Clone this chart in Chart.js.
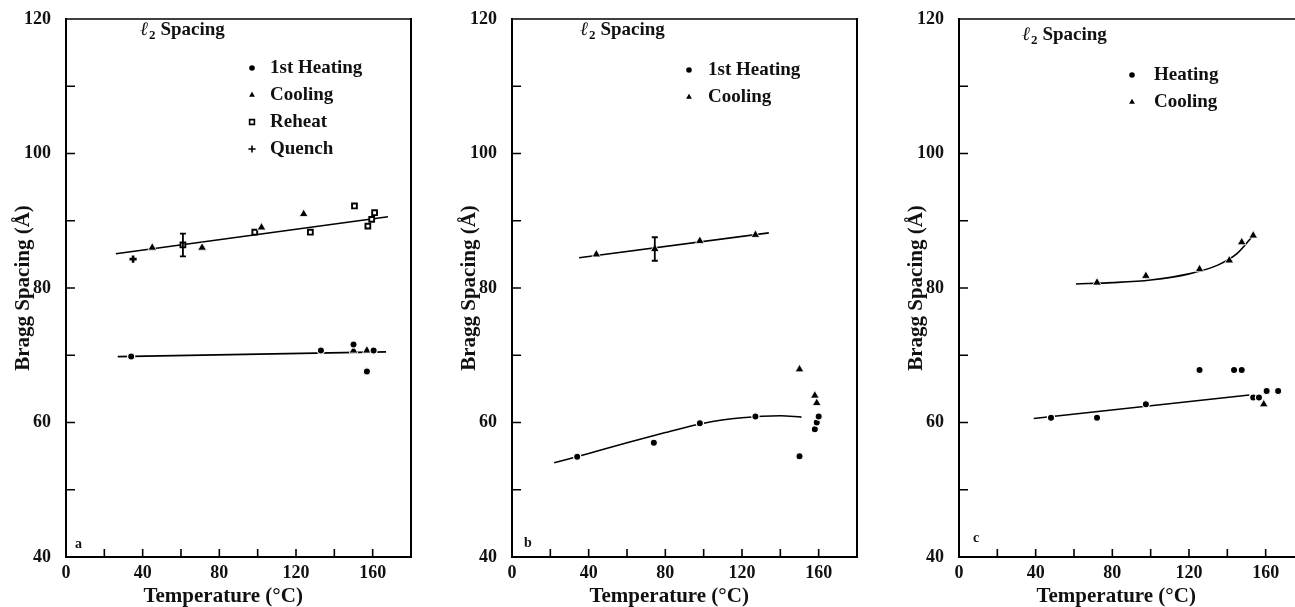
<!DOCTYPE html>
<html>
<head>
<meta charset="utf-8">
<script src="https://cdn.jsdelivr.net/npm/chart.js@4.4.1/dist/chart.umd.min.js"></script>
<style>
  html, body { margin: 0; padding: 0; background: #fff; overflow: hidden; }
  #wrap { position: relative; width: 1295px; height: 607px; overflow: hidden; }
  .panel { position: absolute; top: 0; width: 446px; height: 607px; }
</style>
</head>
<body>
<div id="wrap">
  <div class="panel" style="left:0px"><canvas id="panelA" width="446" height="607"></canvas></div>
  <div class="panel" style="left:446px"><canvas id="panelB" width="446" height="607"></canvas></div>
  <div class="panel" style="left:893px"><canvas id="panelC" width="446" height="607"></canvas></div>
</div>
<script>
// axis labels that get printed; the other ticks are left as bare marks
const tempLabels = [0, 40, 80, 120, 160];
const spacingLabels = [40, 60, 80, 100, 120];

// (a) first heating, cooling, reheat, quench
const aHeatT = [34, 133, 150, 157, 160.5];
const aHeatD = [69.8, 70.7, 71.6, 67.6, 70.7];
const aCoolT = [45, 71, 102, 124, 150, 157];
const aCoolD = [86.0, 86.0, 89.0, 91.0, 70.7, 70.7];
const aReheatT = [61, 98.5, 127.5, 150.5, 157.5, 159.5, 161];
const aReheatD = [86.4, 88.3, 88.3, 92.2, 89.2, 90.2, 91.2];
const aQuenchT = [35];
const aQuenchD = [84.3];
const aUpperFitT = [26, 168];
const aUpperFitD = [85.1, 90.6];
const aLowerFitT = [27, 167];
const aLowerFitD = [69.8, 70.5];
const aErrT = [61];
const aErrD = [86.4];
const aErrPM = [1.7];

// (b) first heating, cooling
const bHeatT = [34, 74, 98, 127, 150, 158, 159, 160];
const bHeatD = [54.9, 57.0, 59.9, 60.9, 55.0, 59.0, 60.0, 60.9];
const bCoolT = [44, 74.5, 98, 127, 150, 158, 159];
const bCoolD = [85.0, 85.8, 87.0, 87.9, 67.9, 64.0, 62.9];
const bUpperFitT = [35, 134];
const bUpperFitD = [84.5, 88.2];
const bLowerFitT = [22, 40, 60, 80, 100, 120, 140, 151];
const bLowerFitD = [54.0, 55.4, 57.0, 58.5, 59.9, 60.7, 61.0, 60.8];
const bErrT = [74.5];
const bErrD = [85.8];
const bErrPM = [1.75];

// (c) heating, cooling
const cHeatT = [48, 72, 97.5, 125.5, 143.5, 147.5, 153.5, 156.5, 160.5, 166.5];
const cHeatD = [60.7, 60.7, 62.7, 67.8, 67.8, 67.8, 63.7, 63.7, 64.7, 64.7];
const cCoolT = [72, 97.5, 125.5, 141, 147.5, 153.5, 159];
const cCoolD = [80.8, 81.8, 82.8, 84.1, 86.8, 87.8, 62.7];
const cUpperFitT = [61, 80, 100, 120, 135, 145, 154];
const cUpperFitD = [80.6, 80.8, 81.2, 82.1, 83.4, 85.1, 88.0];
const cLowerFitT = [39, 151.5];
const cLowerFitD = [60.6, 64.1];

const SERIF = "'Liberation Serif', 'DejaVu Serif', serif";
Chart.defaults.font.family = SERIF;
Chart.defaults.font.weight = 'bold';
Chart.defaults.color = '#111';

const pts = (xs, ys) => xs.map((x, i) => ({ x, y: ys[i] }));
const errs = (xs, ys, pm) => xs.map((x, i) => ({ x, y: ys[i], pm: pm[i] }));

function markers(label, xs, ys, kind) {
  const styles = {
    circle:   { pointStyle: 'circle', pointRadius: 3.6, pointBackgroundColor: '#000', pointBorderColor: '#fff', pointBorderWidth: 1.2 },
    triangle: { pointStyle: 'triangle', pointRadius: 5, pointBackgroundColor: '#000', pointBorderColor: '#fff', pointBorderWidth: 0.8 },
    square:   { pointStyle: 'rect', pointRadius: 3.4, pointBackgroundColor: '#fff', pointBorderColor: '#000', pointBorderWidth: 1.9 },
    cross:    { pointStyle: 'cross', pointRadius: 3.6, pointBackgroundColor: '#000', pointBorderColor: '#000', pointBorderWidth: 2.6 }
  };
  return Object.assign({ label, data: pts(xs, ys), showLine: false }, styles[kind]);
}

function fit(xs, ys, curved) {
  return {
    label: '', data: pts(xs, ys), showLine: true, pointRadius: 0,
    borderColor: '#000', borderWidth: 1.6, fill: false,
    tension: curved ? 0.4 : 0, cubicInterpolationMode: curved ? 'monotone' : 'default'
  };
}

// frame, inward ticks, legend block, panel letter, error bars, x title
const panelDecor = {
  id: 'panelDecor',
  afterDatasetsDraw(chart, args, o) {
    const { ctx, scales: { x, y } } = chart;
    ctx.save();
    ctx.strokeStyle = '#000';
    ctx.lineWidth = 1.8;
    (o.errors || []).forEach(e => {
      const px = x.getPixelForValue(e.x);
      const t = y.getPixelForValue(e.y + e.pm), b = y.getPixelForValue(e.y - e.pm);
      ctx.beginPath();
      ctx.moveTo(px, t); ctx.lineTo(px, b);
      ctx.moveTo(px - 3, t); ctx.lineTo(px + 3, t);
      ctx.moveTo(px - 3, b); ctx.lineTo(px + 3, b);
      ctx.stroke();
    });
    ctx.restore();
  },
  afterDraw(chart, args, o) {
    const { ctx, chartArea: ca, scales: { x, y } } = chart;
    ctx.save();
    ctx.strokeStyle = '#000';
    ctx.lineCap = 'square';

    // box
    ctx.lineWidth = 2;
    ctx.beginPath();
    ctx.moveTo(ca.left, ca.top); ctx.lineTo(ca.left, ca.bottom); ctx.lineTo(ca.right, ca.bottom);
    ctx.lineTo(ca.right, ca.top);
    ctx.stroke();
    ctx.lineWidth = 1.6;
    ctx.beginPath();
    ctx.moveTo(ca.left, ca.top); ctx.lineTo(ca.right, ca.top);
    ctx.stroke();

    // ticks pointing into the plot
    ctx.lineWidth = 1.6;
    ctx.lineCap = 'butt';
    ctx.beginPath();
    x.ticks.forEach(t => {
      if (t.value <= x.min || t.value >= x.max) return;
      const px = x.getPixelForValue(t.value);
      ctx.moveTo(px, ca.bottom); ctx.lineTo(px, ca.bottom - 8);
    });
    y.ticks.forEach(t => {
      if (t.value <= y.min || t.value >= y.max) return;
      const py = y.getPixelForValue(t.value);
      ctx.moveTo(ca.left, py); ctx.lineTo(ca.left + 9, py);
    });
    ctx.stroke();

    ctx.fillStyle = '#111';
    ctx.textBaseline = 'alphabetic';

    // l2 Spacing heading
    const h = o.heading;
    let hx = h.x;
    ctx.font = 'italic 19px ' + SERIF;
    ctx.fillText('\u2113', hx, h.y);
    hx += ctx.measureText('\u2113').width + 1;
    ctx.font = 'bold 13px ' + SERIF;
    ctx.fillText('2', hx, h.y + 4);
    hx += ctx.measureText('2').width + 5;
    ctx.font = 'bold 19px ' + SERIF;
    ctx.fillText('Spacing', hx, h.y);

    // legend
    const lg = o.legend;
    lg.items.forEach((label, i) => {
      const ds = chart.data.datasets.find(d => d.label === label);
      const ly = lg.y + i * lg.dy;
      ctx.fillStyle = ds.pointBackgroundColor;
      ctx.strokeStyle = ds.pointBorderColor;
      Chart.helpers.drawPoint(ctx, {
        pointStyle: ds.pointStyle, rotation: 0,
        radius: ds.pointRadius, borderWidth: ds.pointBorderWidth
      }, lg.x, ly - 5);
      ctx.fillStyle = '#111';
      ctx.font = 'bold 19px ' + SERIF;
      ctx.fillText(label, lg.textX, ly);
    });

    // panel letter
    ctx.font = 'bold 14px ' + SERIF;
    ctx.fillText(o.letter.text, o.letter.x, o.letter.y);

    // x axis title
    ctx.font = 'bold 21px ' + SERIF;
    ctx.textAlign = 'center';
    ctx.fillText('Temperature (\u00B0C)', x.getPixelForValue(82), 602);
    ctx.restore();
  }
};

function panelChart(id, datasets, decor) {
  return new Chart(document.getElementById(id), {
    type: 'scatter',
    data: { datasets },
    options: {
      responsive: false,
      animation: false,
      events: [],
      layout: { padding: { left: 0, top: 19, right: 35, bottom: 0 } },
      plugins: { legend: { display: false }, tooltip: { enabled: false }, panelDecor: decor },
      scales: {
        x: {
          type: 'linear', min: 0, max: 180,
          grid: { display: false }, border: { display: false },
          ticks: {
            stepSize: 20, autoSkip: false, maxRotation: 0, padding: -2,
            font: { size: 18, weight: 'bold' }, color: '#111',
            callback: v => tempLabels.includes(v) ? String(v) : ''
          },
          afterFit: s => { s.height = 50; }
        },
        y: {
          type: 'linear', min: 40, max: 120,
          grid: { display: false }, border: { display: false },
          title: {
            display: true, text: 'Bragg Spacing (\u00C5)', color: '#111',
            font: { size: 21, weight: 'bold' }, padding: { top: 11, bottom: 0 }
          },
          ticks: {
            stepSize: 10, autoSkip: false, padding: 7,
            font: { size: 18, weight: 'bold' }, color: '#111',
            callback: v => spacingLabels.includes(v) ? String(v) : ''
          },
          afterFit: s => { s.width = 66; }
        }
      }
    },
    plugins: [panelDecor]
  });
}

panelChart('panelA', [
  markers('1st Heating', aHeatT, aHeatD, 'circle'),
  markers('Cooling', aCoolT, aCoolD, 'triangle'),
  markers('Reheat', aReheatT, aReheatD, 'square'),
  markers('Quench', aQuenchT, aQuenchD, 'cross'),
  fit(aUpperFitT, aUpperFitD, false),
  fit(aLowerFitT, aLowerFitD, false)
], {
  heading: { x: 140, y: 35 },
  legend: { items: ['1st Heating', 'Cooling', 'Reheat', 'Quench'], x: 252, textX: 270, y: 73, dy: 27 },
  letter: { text: 'a', x: 75, y: 548 },
  errors: errs(aErrT, aErrD, aErrPM)
});

panelChart('panelB', [
  markers('1st Heating', bHeatT, bHeatD, 'circle'),
  markers('Cooling', bCoolT, bCoolD, 'triangle'),
  fit(bUpperFitT, bUpperFitD, false),
  fit(bLowerFitT, bLowerFitD, true)
], {
  heading: { x: 134, y: 35 },
  legend: { items: ['1st Heating', 'Cooling'], x: 243, textX: 262, y: 75, dy: 27 },
  letter: { text: 'b', x: 78, y: 547 },
  errors: errs(bErrT, bErrD, bErrPM)
});

panelChart('panelC', [
  markers('Heating', cHeatT, cHeatD, 'circle'),
  markers('Cooling', cCoolT, cCoolD, 'triangle'),
  fit(cUpperFitT, cUpperFitD, true),
  fit(cLowerFitT, cLowerFitD, false)
], {
  heading: { x: 129, y: 40 },
  legend: { items: ['Heating', 'Cooling'], x: 239, textX: 261, y: 80, dy: 27 },
  letter: { text: 'c', x: 80, y: 542 },
  errors: []
});
</script>
</body>
</html>
